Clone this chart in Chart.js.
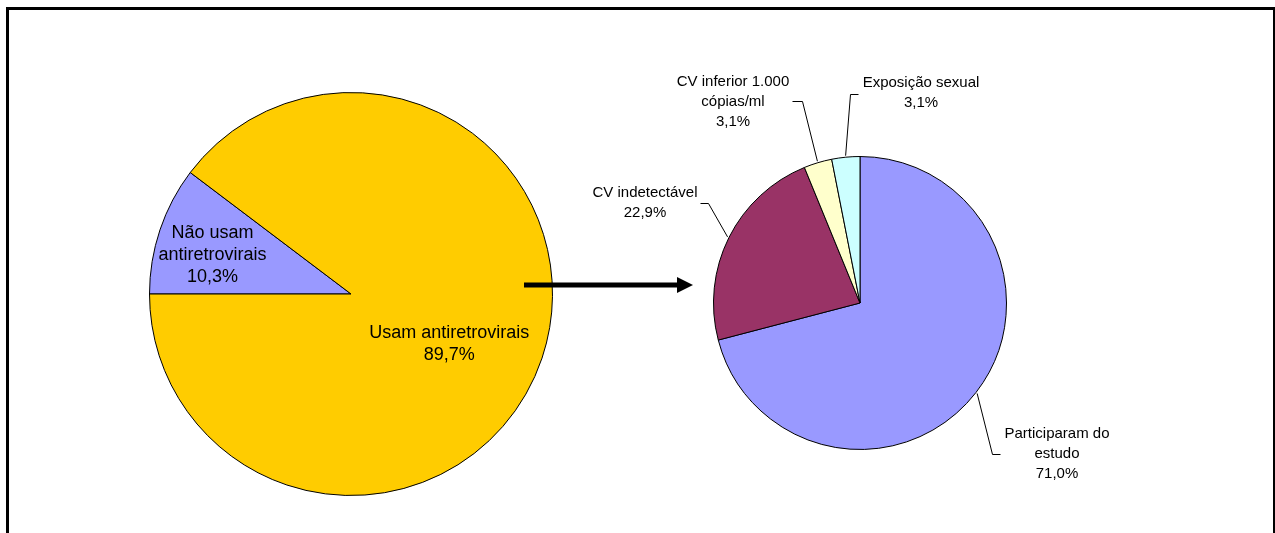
<!DOCTYPE html>
<html>
<head>
<meta charset="utf-8">
<script src="https://cdn.jsdelivr.net/npm/chart.js@4.4.1/dist/chart.umd.min.js"></script>
<style>
  html, body { margin: 0; padding: 0; background: #fff; overflow: hidden; }
  #wrap { position: relative; width: 1275px; height: 533px; overflow: hidden; }
  #frame { position: absolute; left: 6px; top: 7px; width: 1270px; height: 600px; border: 3px solid #000; box-sizing: border-box; }
  canvas { position: absolute; top: 0; }
  #leftPie { left: 0; }
  #rightPie { left: 560px; }
</style>
</head>
<body>
<div id="wrap">
  <div id="frame"></div>
  <canvas id="leftPie" width="700" height="533"></canvas>
  <canvas id="rightPie" width="715" height="533"></canvas>
</div>
<script>
// uso de antirretrovirais
const useLabels = [['Não usam', 'antiretrovirais'], ['Usam antiretrovirais']];
const useValues = [10.3, 89.7];
const useColors = ['#9999FF', '#FFCC00'];

// detalhamento de quem usa
const detailLabels = [['Participaram do', 'estudo'], ['CV indetectável'], ['CV inferior 1.000', 'cópias/ml'], ['Exposição sexual']];
const detailValues = [71.0, 22.9, 3.1, 3.1];
const detailColors = ['#9999FF', '#993366', '#FFFFCC', '#CCFFFF'];

const pct = v => v.toFixed(1).replace('.', ',') + '%';

// writes the label of every slice, inside or with a leader line
const pieLabels = {
  id: 'pieLabels',
  afterDatasetsDraw(chart, args, opts) {
    const ctx = chart.ctx;
    const meta = chart.getDatasetMeta(0);
    const values = chart.data.datasets[0].data;
    ctx.save();
    ctx.font = opts.font;
    ctx.fillStyle = '#000';
    ctx.strokeStyle = '#000';
    ctx.lineWidth = 1;
    ctx.textAlign = 'center';
    ctx.textBaseline = 'middle';
    meta.data.forEach((arc, i) => {
      const { x, y, startAngle, endAngle, outerRadius } =
        arc.getProps(['x', 'y', 'startAngle', 'endAngle', 'outerRadius'], true);
      const mid = (startAngle + endAngle) / 2;
      const lines = [].concat(chart.data.labels[i], pct(values[i]));
      const place = opts.layout[i];
      let tx, ty;
      if (place.elbow) {
        const ex = x + Math.cos(mid) * (outerRadius + 1.5);
        const ey = y + Math.sin(mid) * (outerRadius + 1.5);
        ctx.beginPath();
        ctx.moveTo(ex, ey);
        ctx.lineTo(x + place.elbow[0] + 0.5, y + place.elbow[1] + 0.5);
        ctx.lineTo(x + place.end[0] + 0.5, y + place.end[1] + 0.5);
        ctx.stroke();
        tx = x + place.text[0];
        ty = y + place.text[1];
      } else {
        const r = outerRadius * place.k;
        tx = x + Math.cos(mid) * r + place.dx;
        ty = y + Math.sin(mid) * r + place.dy - (lines.length - 1) * opts.lineHeight / 2;
      }
      lines.forEach((t, j) => ctx.fillText(t, tx, ty + j * opts.lineHeight));
    });
    ctx.restore();
  }
};

// thick arrow between the two pies
const linkArrow = {
  id: 'linkArrow',
  afterDraw(chart, args, opts) {
    const ctx = chart.ctx;
    const [x0, y0] = opts.from;
    const [x1] = opts.to;
    ctx.save();
    ctx.fillStyle = '#000';
    ctx.fillRect(x0, y0 - opts.width / 2, x1 - opts.headLength - x0 + 1, opts.width);
    ctx.beginPath();
    ctx.moveTo(x1 - opts.headLength, y0 - opts.headWidth);
    ctx.lineTo(x1, y0);
    ctx.lineTo(x1 - opts.headLength, y0 + opts.headWidth);
    ctx.closePath();
    ctx.fill();
    ctx.restore();
  }
};

const baseOptions = {
  responsive: false,
  animation: false,
  events: [],
};

new Chart(document.getElementById('leftPie'), {
  type: 'pie',
  data: {
    labels: useLabels,
    datasets: [{ data: useValues, backgroundColor: useColors, borderColor: '#000', borderWidth: 1 }]
  },
  options: {
    ...baseOptions,
    rotation: 270,
    layout: { padding: { left: 149, right: 147, top: 92, bottom: 37 } },
    plugins: {
      legend: { display: false },
      tooltip: { enabled: false },
      pieLabels: {
        font: '18px "Liberation Sans", Arial, sans-serif',
        lineHeight: 22,
        layout: [
          { k: 0.72, dx: -1, dy: 7 },
          { k: 0.54, dx: -5, dy: 15 }
        ]
      },
      linkArrow: { from: [524, 285], to: [693, 285], width: 5, headLength: 16, headWidth: 8 }
    }
  },
  plugins: [pieLabels, linkArrow]
});

new Chart(document.getElementById('rightPie'), {
  type: 'pie',
  data: {
    labels: detailLabels,
    datasets: [{ data: detailValues, backgroundColor: detailColors, borderColor: '#000', borderWidth: 1 }]
  },
  options: {
    ...baseOptions,
    rotation: 0,
    layout: { padding: { left: 153, right: 268, top: 156, bottom: 83 } },
    plugins: {
      legend: { display: false },
      tooltip: { enabled: false },
      pieLabels: {
        font: '15px "Liberation Sans", Arial, sans-serif',
        lineHeight: 20,
        layout: [
          { elbow: [132, 151], end: [140, 151], text: [197, 131] },
          { elbow: [-152, -100], end: [-160, -100], text: [-215, -110] },
          { elbow: [-58, -202], end: [-68, -202], text: [-127, -221] },
          { elbow: [-10, -209], end: [-2, -209], text: [61, -220] }
        ]
      }
    }
  },
  plugins: [pieLabels]
});
</script>
</body>
</html>
